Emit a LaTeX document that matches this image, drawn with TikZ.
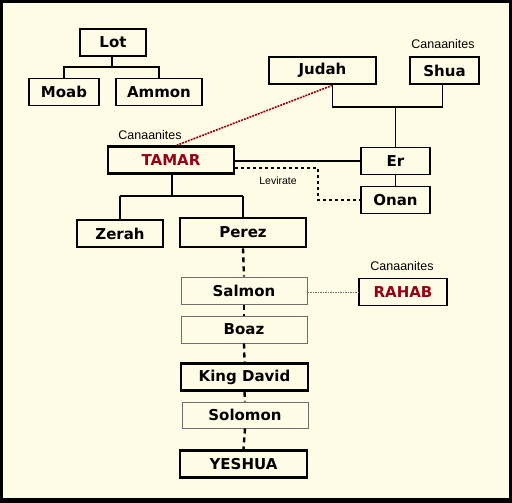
\documentclass[tikz,border=0pt]{standalone}
\usepackage{fontspec}
\setmainfont{DejaVu Sans}
\newfontfamily\smallfont{Liberation Sans}
\definecolor{cream}{RGB}{255,252,230}
\definecolor{dred}{RGB}{150,0,20}
\definecolor{boxgray}{RGB}{110,110,110}
\tikzset{
  person/.style={draw=black, line width=1.2pt, minimum width=#1, minimum height=27pt, inner sep=0pt,
     font=\fontsize{15}{17}\selectfont\bfseries},
  person/.default=69pt,
  thickp/.style={line width=2.6pt},
  lightp/.style={draw=boxgray, line width=1pt},
  tag/.style={font=\smallfont\fontsize{12.5}{14}\selectfont, inner sep=0pt},
  link/.style={line width=1.1pt},
}
\begin{document}
\begin{tikzpicture}[x=1pt,y=-1pt]
\useasboundingbox (0,0) rectangle (512,503);
\fill[black] (0,0) rectangle (512,503);
\fill[cream] (3,3) rectangle (509,498);

% nodes
\node[person=66pt] (lot) at (113,42.5) {Lot};
\node[person=70pt] (moab) at (64,92) {Moab};
\node[person=86pt] (ammon) at (159,92) {Ammon};
\node[person=107pt, thickp] (judah) at (322.5,70.5) {Judah};
\node[person=69pt] (shua) at (444.5,70.5) {Shua};
\node[person=126pt, thickp, text=dred] (tamar) at (171,160) {TAMAR};
\node[person=69pt] (er) at (395.5,161) {Er};
\node[person=69pt] (onan) at (395.5,200) {Onan};
\node[person=86pt] (zerah) at (120,233.5) {Zerah};
\node[person=126pt, thickp, minimum height=29pt] (perez) at (243,232.5) {Perez};
\node[person=126pt, lightp] (salmon) at (244,290.5) {Salmon};
\node[person=88pt, text=dred] (rahab) at (403,292) {RAHAB};
\node[person=126pt, lightp] (boaz) at (244,329.5) {Boaz};
\node[person=127pt, thickp] (david) at (244.5,377) {King David};
\node[person=126pt, lightp, minimum height=26pt] (solomon) at (245,415) {Solomon};
\node[person=127pt, thickp] (yeshua) at (243.5,464) {YESHUA};

% labels
\node[tag] (c1) at (150,135) {Canaanites};
\node[tag] (c2) at (443,44) {Canaanites};
\node[tag] (c3) at (402,266) {Canaanites};
\node[tag, font=\smallfont\fontsize{10.5}{11}\selectfont] (lev) at (278,181) {Levirate};

% Lot family
\coordinate (lotf) at (112,67);
\draw[link] ([xshift=-1pt]lot.south) -- (lotf);
\draw[link] (moab.north) |- (lotf) -| (ammon.north);

% Judah + Shua
\coordinate (js) at (395.5,107);
\draw[link] ([xshift=10pt]judah.south) |- (js) -| ([xshift=-2pt]shua.south);
\draw[link] (js) -- (er.north);
\draw[link] (er.south) -- (onan.north);

% Judah -- Tamar
\draw[dred, line width=1.6pt, dash pattern=on 2pt off 1pt] ([xshift=10pt]judah.south) -- ([xshift=6pt]tamar.north);

% Tamar -- Er
\draw[link] (tamar.east |- er.west) -- (er.west);
% Levirate
\coordinate (lv) at (318,168);
\draw[link, dash pattern=on 3pt off 3pt] (tamar.east |- lv) -- (lv) |- (onan.west);

% Tamar children
\coordinate (tc) at (172,196);
\draw[line width=2.6pt] ([xshift=1pt]tamar.south) -- (tc);
\draw[link] (zerah.north |- tc) -- (perez.north |- tc);
\draw[link] (zerah.north |- tc) -- (zerah.north);
\draw[link] (perez.north |- tc) -- (perez.north);

% line of descent
\draw[line width=2.4pt, dash pattern=on 5pt off 4pt] (perez.south) -- (salmon.north);
\draw[line width=2.4pt, dash pattern=on 5pt off 4pt] (salmon.south) -- (boaz.north);
\draw[line width=2.4pt, dash pattern=on 5pt off 4pt] (boaz.south) -- (david.north);
\draw[line width=2.4pt, dash pattern=on 5pt off 4pt] (david.south) -- (solomon.north);
\draw[line width=2.4pt, dash pattern=on 5pt off 4pt] (solomon.south) -- (yeshua.north);

% Salmon -- Rahab
\draw[boxgray, line width=0.9pt, dash pattern=on 1.5pt off 1pt] (salmon.east |- rahab.west) -- (rahab.west);
\end{tikzpicture}
\end{document}
